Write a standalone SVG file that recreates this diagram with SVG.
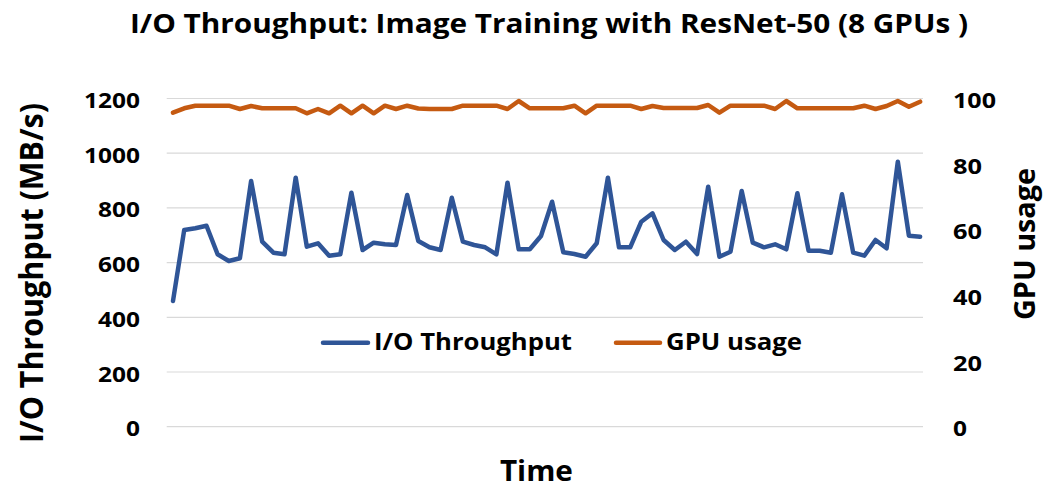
<svg xmlns="http://www.w3.org/2000/svg" width="1043" height="488" viewBox="0 0 1043 488">
<style>
text{font-family:"Open Sans","Liberation Sans",sans-serif;font-weight:700;fill:#000}
.tick{font-size:21px}
.grid{stroke:#D9D9D9;stroke-width:1.2}
.series{fill:none;stroke-width:4.5;stroke-linejoin:round;stroke-linecap:round}
.io{stroke:#2F5597}
.gpu{stroke:#C55A11}
</style>
<rect width="1043" height="488" fill="#fff"/>
<g id="title"><text x="130" y="32.5" font-size="27.6" textLength="838" lengthAdjust="spacingAndGlyphs">I/O Throughput: Image Training with ResNet-50 (8 GPUs )</text></g>
<g id="gridlines">
<line class="grid" x1="166.7" y1="98.5" x2="923" y2="98.5"/>
<line class="grid" x1="166.7" y1="153.2" x2="923" y2="153.2"/>
<line class="grid" x1="166.7" y1="207.9" x2="923" y2="207.9"/>
<line class="grid" x1="166.7" y1="262.6" x2="923" y2="262.6"/>
<line class="grid" x1="166.7" y1="317.3" x2="923" y2="317.3"/>
<line class="grid" x1="166.7" y1="372" x2="923" y2="372"/>
<line class="grid" x1="166.7" y1="426.7" x2="923" y2="426.7"/>
</g>
<g id="left-axis" text-anchor="end">
<text class="tick" x="140" y="108" textLength="56" lengthAdjust="spacingAndGlyphs">1200</text>
<text class="tick" x="140" y="162.7" textLength="56" lengthAdjust="spacingAndGlyphs">1000</text>
<text class="tick" x="140" y="217.4" textLength="42" lengthAdjust="spacingAndGlyphs">800</text>
<text class="tick" x="140" y="272.1" textLength="42" lengthAdjust="spacingAndGlyphs">600</text>
<text class="tick" x="140" y="326.8" textLength="42" lengthAdjust="spacingAndGlyphs">400</text>
<text class="tick" x="140" y="381.5" textLength="42" lengthAdjust="spacingAndGlyphs">200</text>
<text class="tick" x="140" y="436.2" textLength="14" lengthAdjust="spacingAndGlyphs">0</text>
</g>
<g id="right-axis">
<text class="tick" x="953" y="108" textLength="43" lengthAdjust="spacingAndGlyphs">100</text>
<text class="tick" x="953" y="173.6" textLength="29" lengthAdjust="spacingAndGlyphs">80</text>
<text class="tick" x="953" y="239.3" textLength="29" lengthAdjust="spacingAndGlyphs">60</text>
<text class="tick" x="953" y="304.9" textLength="29" lengthAdjust="spacingAndGlyphs">40</text>
<text class="tick" x="953" y="370.5" textLength="29" lengthAdjust="spacingAndGlyphs">20</text>
<text class="tick" x="953" y="436.2" textLength="14" lengthAdjust="spacingAndGlyphs">0</text>
</g>
<g id="axis-titles">
<text transform="translate(43,273) rotate(-90)" text-anchor="middle" font-size="32" textLength="340" lengthAdjust="spacingAndGlyphs">I/O Throughput (MB/s)</text>
<text transform="translate(1035,244) rotate(-90)" text-anchor="middle" font-size="28" textLength="152" lengthAdjust="spacingAndGlyphs">GPU usage</text>
<text x="536.4" y="481" text-anchor="middle" font-size="29" textLength="73" lengthAdjust="spacingAndGlyphs">Time</text>
</g>
<g id="series">
<polyline id="gpu-usage" class="series gpu" points="173.0,112.7 184.2,108.3 195.3,105.7 206.5,105.7 217.6,105.7 228.8,105.7 239.9,109 251.1,106 262.2,108.3 273.4,108.3 284.5,108.3 295.7,108.3 306.8,113.3 318.0,109 329.1,113.3 340.3,105.7 351.4,113.3 362.6,105.7 373.7,113.3 384.9,105.7 396.0,109 407.2,105.7 418.3,108.5 429.5,109 440.6,109 451.8,109 462.9,105.7 474.1,105.7 485.2,105.7 496.4,105.7 507.5,109 518.7,101 529.8,108.3 541.0,108.3 552.1,108.3 563.3,108.3 574.4,105.7 585.6,113.3 596.7,105.7 607.9,105.7 619.0,105.7 630.2,105.7 641.3,109 652.5,106 663.6,108 674.8,108 685.9,108 697.1,108 708.2,105 719.4,112.7 730.5,105.7 741.7,105.7 752.8,105.7 764.0,105.7 775.1,109 786.3,101 797.4,108.3 808.6,108.3 819.7,108.3 830.9,108.3 842.0,108.3 853.2,108.3 864.3,105.7 875.5,109 886.6,106 897.8,101 908.9,106.7 920.1,101.7"/>
<polyline id="io-throughput" class="series io" points="173.0,301 184.2,230 195.3,228.3 206.5,225.7 217.6,254.3 228.8,261 239.9,258.3 251.1,181 262.2,241.7 273.4,252.7 284.5,254.3 295.7,177.7 306.8,246.7 318.0,243.3 329.1,255.7 340.3,254.3 351.4,192.7 362.6,250 373.7,242.7 384.9,244.3 396.0,245 407.2,195 418.3,241 429.5,247.3 440.6,250 451.8,197.7 462.9,241.7 474.1,245 485.2,247.3 496.4,254.3 507.5,182.7 518.7,249.3 529.8,249.3 541.0,236 552.1,201.7 563.3,252.3 574.4,254 585.6,256.7 596.7,243.3 607.9,177.7 619.0,247.3 630.2,247.3 641.3,221.7 652.5,213.3 663.6,240 674.8,250 685.9,241.7 697.1,254 708.2,186.7 719.4,256.7 730.5,251.7 741.7,191 752.8,242.7 764.0,247.3 775.1,244.3 786.3,249.3 797.4,193.3 808.6,250.7 819.7,250.7 830.9,252.7 842.0,194.3 853.2,252.7 864.3,255.7 875.5,240 886.6,248.3 897.8,161.7 908.9,235.7 920.1,236.7"/>
</g>
<g id="legend">
<line class="series io" x1="323" y1="342.7" x2="368" y2="342.7"/>
<text x="374" y="350" font-size="24" textLength="198" lengthAdjust="spacingAndGlyphs">I/O Throughput</text>
<line class="series gpu" x1="616" y1="342.7" x2="660" y2="342.7"/>
<text x="666" y="350" font-size="24" textLength="136" lengthAdjust="spacingAndGlyphs">GPU usage</text>
</g>
</svg>
